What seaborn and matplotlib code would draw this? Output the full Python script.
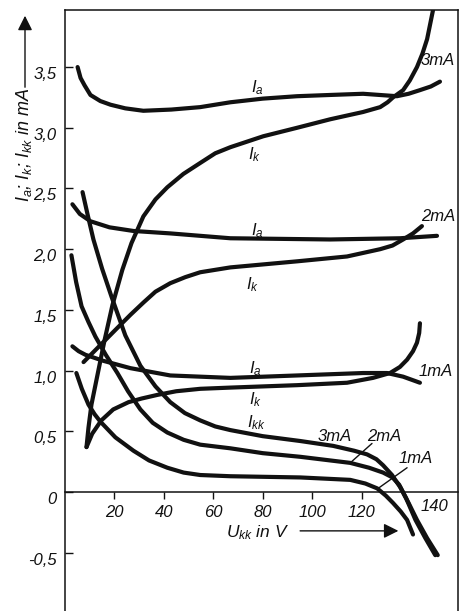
import pandas as pd
import seaborn as sns
import matplotlib.pyplot as plt

# values: U_kk in V, currents in mA, for 1, 2 and 3 mA
ia3_u = [5.1, 6.3, 7.9, 10.3, 14.3, 18.4, 24.4, 31.7, 43.0, 54.7, 66.9, 80.0, 93.9,
         107.0, 120.6, 134.3, 139.0, 143.6, 148.0, 151.7]
ia3_i = [3.50, 3.41, 3.35, 3.27, 3.22, 3.19, 3.16, 3.14, 3.15, 3.17, 3.21, 3.24, 3.26,
         3.27, 3.28, 3.26, 3.28, 3.31, 3.34, 3.38]

ik3_u = [8.7, 9.5, 10.7, 13.1, 16.0, 19.2, 23.2, 26.9, 31.7, 36.6, 41.4, 47.9, 54.7,
         60.8, 66.9, 80.2, 93.9, 107.3, 120.6, 127.5, 130.5, 132.7, 136.8, 139.5,
         142.4, 144.6, 146.5, 148.9]
ik3_i = [0.37, 0.53, 0.72, 0.96, 1.25, 1.54, 1.83, 2.05, 2.27, 2.41, 2.51, 2.62, 2.71,
         2.79, 2.84, 2.93, 3.00, 3.07, 3.13, 3.17, 3.21, 3.25, 3.31, 3.39,
         3.50, 3.61, 3.73, 3.97]

ia2_u = [3.0, 6.0, 10.3, 18.0, 27.7, 42.6, 66.9, 107.3, 135.6, 150.5]
ia2_i = [2.37, 2.29, 2.23, 2.18, 2.15, 2.13, 2.09, 2.08, 2.09, 2.11]

ik2_u = [7.5, 14.3, 21.6, 26.5, 31.7, 36.6, 42.6, 48.7, 54.7, 66.9, 93.9, 114.1,
         127.5, 132.5, 136.8, 140.8, 144.4]
ik2_i = [1.07, 1.21, 1.36, 1.46, 1.56, 1.65, 1.72, 1.77, 1.81, 1.85, 1.90, 1.94,
         2.00, 2.03, 2.08, 2.13, 2.19]

ia1_u = [3.0, 5.5, 8.3, 15.6, 26.5, 42.6, 66.9, 93.9, 120.6, 130.3, 136.8, 143.6]
ia1_i = [1.20, 1.16, 1.13, 1.08, 1.02, 0.96, 0.94, 0.96, 0.98, 0.98, 0.95, 0.90]

ik1_u = [8.7, 11.0, 14.7, 19.5, 25.7, 31.0, 37.4, 45.0, 54.7, 66.9, 93.9, 114.1,
         124.6, 131.5, 135.5, 138.4, 140.8, 142.4, 143.3, 143.6]
ik1_i = [0.37, 0.48, 0.59, 0.68, 0.74, 0.77, 0.80, 0.83, 0.85, 0.86, 0.88, 0.90,
         0.94, 0.98, 1.03, 1.09, 1.16, 1.23, 1.31, 1.39]

ikk3_u = [7.1, 9.2, 11.5, 15.0, 18.8, 24.4, 30.5, 36.6, 42.6, 48.5, 54.7, 60.8, 66.9,
          80.0, 95.2, 108.5, 117.0, 122.2, 126.0, 128.7, 132.3, 135.6, 139.0, 142.4,
          146.5, 150.8]
ikk3_i = [2.47, 2.28, 2.08, 1.84, 1.61, 1.29, 1.04, 0.87, 0.74, 0.65, 0.59, 0.54, 0.51,
          0.46, 0.42, 0.38, 0.34, 0.31, 0.27, 0.22, 0.14, 0.04, -0.09, -0.23,
          -0.38, -0.52]

ikk2_u = [2.6, 4.5, 6.7, 9.5, 12.3, 16.5, 21.2, 25.5, 30.5, 35.5, 41.4, 48.0, 54.7,
          66.9, 80.0, 95.2, 115.4, 123.0, 128.7, 132.5, 135.2, 138.0, 141.8, 145.8,
          149.8]
ikk2_i = [1.95, 1.73, 1.53, 1.40, 1.28, 1.13, 0.98, 0.83, 0.68, 0.57, 0.49, 0.43, 0.39,
          0.36, 0.32, 0.29, 0.24, 0.20, 0.16, 0.12, 0.06, -0.05, -0.23, -0.38,
          -0.52]

ikk1_u = [4.6, 6.8, 9.5, 12.0, 14.3, 20.4, 27.7, 34.0, 41.4, 48.0, 54.7, 66.9, 95.2,
          115.4, 121.5, 126.3, 129.8, 132.7, 135.8, 138.4, 140.8]
ikk1_i = [0.98, 0.85, 0.72, 0.64, 0.58, 0.45, 0.34, 0.26, 0.20, 0.16, 0.14, 0.13, 0.12,
          0.10, 0.07, 0.03, -0.03, -0.09, -0.16, -0.23, -0.35]

yticks = [-0.5, 0, 0.5, 1.0, 1.5, 2.0, 2.5, 3.0, 3.5]
ytick_labels = ['-0,5', '0', '0,5', '1,0', '1,5', '2,0', '2,5', '3,0', '3,5']
xticks = [20, 40, 60, 80, 100, 120]

curves = {
    'Ia 3mA': (ia3_u, ia3_i), 'Ik 3mA': (ik3_u, ik3_i),
    'Ia 2mA': (ia2_u, ia2_i), 'Ik 2mA': (ik2_u, ik2_i),
    'Ia 1mA': (ia1_u, ia1_i), 'Ik 1mA': (ik1_u, ik1_i),
    'Ikk 3mA': (ikk3_u, ikk3_i), 'Ikk 2mA': (ikk2_u, ikk2_i),
    'Ikk 1mA': (ikk1_u, ikk1_i),
}
frames = []
for name, (u, i) in curves.items():
    frames.append(pd.DataFrame({'U': u, 'I': i, 'curve': name}))
df = pd.concat(frames, ignore_index=True)

sns.set_style('ticks')
plt.rcParams['font.family'] = ['Liberation Sans', 'DejaVu Sans']
plt.rcParams['font.style'] = 'italic'
plt.rcParams['mathtext.fontset'] = 'custom'
plt.rcParams['mathtext.it'] = 'Liberation Sans:italic'
plt.rcParams['mathtext.rm'] = 'Liberation Sans:italic'

ink = '#111111'
fig = plt.figure(figsize=(4.59, 6.11), dpi=100)
ax = fig.add_axes([65 / 459, 0, 393 / 459, 601 / 611])

sns.lineplot(data=df, x='U', y='I', units='curve', estimator=None, sort=False,
             color=ink, lw=3, solid_capstyle='round', solid_joinstyle='round', ax=ax)

ax.set_xlim(0, 159)
ax.set_ylim(-0.98, 3.97)
ax.spines['bottom'].set_position(('data', 0))
for s in ['left', 'top', 'right', 'bottom']:
    ax.spines[s].set_linewidth(1.1)
    ax.spines[s].set_color(ink)

ax.set_xticks(xticks, [str(t) for t in xticks])
ax.set_yticks(yticks, ytick_labels, va='top')
ax.tick_params(axis='x', direction='out', length=5, width=1, pad=4, labelsize=12, colors=ink)
ax.tick_params(axis='y', direction='in', length=6, width=1, pad=6, labelsize=12, colors=ink)
ax.set_xlabel('')
ax.set_ylabel('')
ax.text(149.5, -0.06, '140', fontsize=12, ha='center', va='top', color=ink)

# curve labels
lab = dict(fontsize=12, color=ink, ha='center', va='center')
ax.text(78, 3.33, '$I_a$', **lab)
ax.text(76.6, 2.78, '$I_k$', **lab)
ax.text(151, 3.55, '3mA', **lab)
ax.text(78, 2.15, '$I_a$', **lab)
ax.text(76, 1.71, '$I_k$', **lab)
ax.text(151, 2.27, '2mA', **lab)
ax.text(77, 1.02, '$I_a$', **lab)
ax.text(77, 0.76, '$I_k$', **lab)
ax.text(150, 0.99, '1mA', **lab)
ax.text(77.4, 0.57, '$I_{kk}$', **lab)
ax.text(109, 0.46, '3mA', **lab)
ax.text(129, 0.46, '2mA', **lab)
ax.text(142, 0.28, '1mA', **lab)
ax.plot([124.2, 115.4], [0.40, 0.24], color=ink, lw=1)
ax.plot([138.4, 126.7], [0.20, 0.03], color=ink, lw=1)

# axis titles with arrows
ax.text(78, -0.335, '$U_{kk}$ in V', fontsize=12.5, ha='center', va='center', color=ink)
ax.annotate('', xy=(136, -0.32), xytext=(94, -0.32),
            arrowprops=dict(arrowstyle='-|>', color=ink, lw=1, mutation_scale=22))
fig.text(24 / 459, 1 - 145 / 611, '$I_a$; $I_k$; $I_{kk}$ in mA', rotation=90,
         fontsize=13, ha='center', va='center', color=ink)
ax.annotate('', xy=(25 / 459, 1 - 13 / 611), xytext=(25 / 459, 1 - 90 / 611),
            xycoords='figure fraction', textcoords='figure fraction',
            arrowprops=dict(arrowstyle='-|>', color=ink, lw=1, mutation_scale=22))

fig.savefig('out.png', dpi=100, facecolor='white')
